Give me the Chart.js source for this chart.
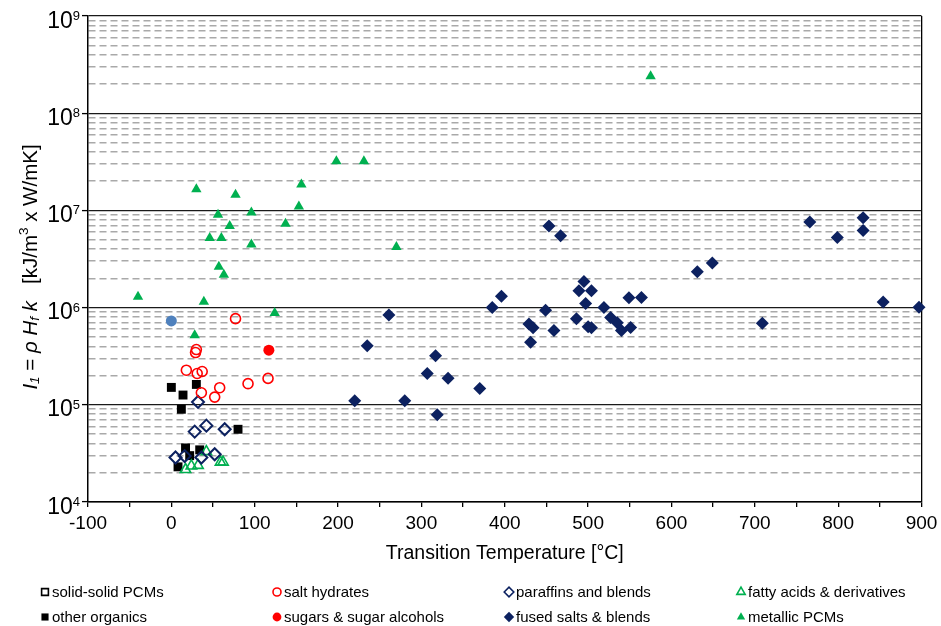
<!DOCTYPE html>
<html>
<head>
<meta charset="utf-8">
<script src="https://cdn.jsdelivr.net/npm/chart.js@4.4.1/dist/chart.umd.min.js"></script>
<style>
  html, body { margin: 0; padding: 0; background: #fff; }
  #wrap { width: 941px; height: 626px; position: relative; }
</style>
</head>
<body>
<div id="wrap"><canvas id="chart"></canvas></div>
<script>
// data: transition temperature [°C] and I1 [kJ/m3 x W/mK]
const saltHydrateT = [77, 30, 29, 18, 31, 37, 36, 58, 52, 92, 116];
const saltHydrateI = [7.7e5, 3.7e5, 3.45e5, 2.27e5, 2.1e5, 2.2e5, 1.33e5, 1.5e5, 1.2e5, 1.65e5, 1.87e5];

const paraffinT = [32, 28, 42, 64, 5, 16, 36, 52];
const paraffinI = [1.07e5, 5.3e4, 6.1e4, 5.6e4, 2.87e4, 2.97e4, 2.87e4, 3.1e4];

const fattyT = [17, 24, 32, 42, 59, 62];
const fattyI = [2.16e4, 2.35e4, 2.38e4, 3.3e4, 2.57e4, 2.57e4];

const organicT = [0, 14, 30, 12, 80, 17, 34, 22, 8];
const organicI = [1.51e5, 1.26e5, 1.62e5, 9.0e4, 5.6e4, 3.6e4, 3.44e4, 3.0e4, 2.3e4];

const sugarT = [117];
const sugarI = [3.65e5];

const fusedT = [453, 467, 261, 235, 220, 280, 319, 317, 307, 332, 370, 385, 396, 429, 434, 431, 449, 459,
  495, 489, 504, 497, 486, 500, 504, 519, 527, 535, 540, 551, 549, 564, 631, 649, 709, 766, 799, 830, 830, 854, 897];
const fusedI = [6.9e6, 5.5e6, 8.4e5, 4.05e5, 1.1e5, 1.1e5, 7.9e4, 3.2e5, 2.1e5, 1.88e5, 1.47e5, 1.0e6, 1.31e6, 6.8e5, 6.2e5, 4.4e5, 9.4e5, 5.8e5,
  1.86e6, 1.49e6, 1.49e6, 1.1e6, 7.7e5, 6.35e5, 6.2e5, 1.0e6, 7.9e5, 7.0e5, 5.8e5, 6.25e5, 1.26e6, 1.27e6, 2.34e6, 2.88e6, 6.9e5, 7.6e6, 5.25e6, 8.4e6, 6.2e6, 1.14e6, 1.01e6];

const metallicT = [-40, 30, 39, 28, 46, 56, 60, 70, 77, 57, 63, 96, 96, 124, 137, 153, 156, 198, 231, 270, 575];
const metallicI = [1.29e6, 1.65e7, 1.15e6, 5.2e5, 5.2e6, 9.0e6, 5.2e6, 6.9e6, 1.45e7, 2.63e6, 2.18e6, 9.5e6, 4.46e6, 8.8e5, 7.3e6, 1.1e7, 1.85e7, 3.2e7, 3.2e7, 4.2e6, 2.4e8];

const waterT = [0];
const waterI = [7.3e5];

const xMin = -100, xMax = 900, xStep = 50;
const yDecades = [4, 5, 6, 7, 8, 9];

const FONT = '"Liberation Sans", Arial, sans-serif';
const NAVY = '#0c2160';
const GREEN = '#00b050';
const RED = '#ff0000';
const NONE = 'rgba(0,0,0,0)';

// 1..9 x 10^n tick values for the log axis
const yTickValues = [];
yDecades.forEach((e, i) => {
  if (i === yDecades.length - 1) { yTickValues.push(10 ** e); return; }
  for (let m = 1; m < 10; m++) yTickValues.push(m * 10 ** e);
});

const isDecade = (v) => {
  const l = Math.log10(v);
  return Math.abs(l - Math.round(l)) < 1e-9;
};

const pts = (xs, ys) => xs.map((x, i) => ({ x: x, y: ys[i] }));

const series = (label, xs, ys, style, fill, stroke, r, bw) => ({
  label: label,
  data: pts(xs, ys),
  pointStyle: style,
  pointRadius: r,
  pointHoverRadius: r,
  backgroundColor: fill,
  borderColor: stroke,
  borderWidth: bw,
  showLine: false,
  clip: false
});

const datasets = [
  series('solid-solid PCMs', [], [], 'rect', NONE, '#000', 6, 1.5),
  series('salt hydrates', saltHydrateT, saltHydrateI, 'circle', NONE, RED, 5, 1.6),
  series('paraffins and blends', paraffinT, paraffinI, 'rectRot', NONE, NAVY, 6, 2),
  series('fatty acids & derivatives', fattyT, fattyI, 'triangle', NONE, GREEN, 6, 1.6),
  series('other organics', organicT, organicI, 'rect', '#000', '#000', 6.3, 0),
  series('sugars & sugar alcohols', sugarT, sugarI, 'circle', RED, RED, 5.5, 0),
  series('fused salts & blends', fusedT, fusedI, 'rectRot', NAVY, NAVY, 6.5, 0),
  series('metallic PCMs', metallicT, metallicI, 'triangle', GREEN, GREEN, 6, 0),
  series('water', waterT, waterI, 'circle', '#4f81bd', '#4f81bd', 5.5, 0)
];

// small marker for the legend
function drawMarker(ctx, style, x, y, r, fill, stroke, lw) {
  ctx.beginPath();
  if (style === 'circle') {
    ctx.arc(x, y, r, 0, Math.PI * 2);
  } else if (style === 'rect') {
    const s = r * Math.SQRT1_2;
    ctx.rect(x - s, y - s, 2 * s, 2 * s);
  } else if (style === 'rectRot') {
    ctx.moveTo(x - r, y); ctx.lineTo(x, y - r); ctx.lineTo(x + r, y); ctx.lineTo(x, y + r);
    ctx.closePath();
  } else if (style === 'triangle') {
    ctx.moveTo(x, y - r);
    ctx.lineTo(x + r * 0.866, y + r * 0.5);
    ctx.lineTo(x - r * 0.866, y + r * 0.5);
    ctx.closePath();
  }
  ctx.fillStyle = fill;
  ctx.fill();
  if (lw > 0) { ctx.lineWidth = lw; ctx.strokeStyle = stroke; ctx.stroke(); }
}

const gridLegend = {
  id: 'gridLegend',
  afterDraw(chart) {
    const ctx = chart.ctx;
    const colX = [45, 277, 509, 741];
    const rowY = [592, 617];
    ctx.save();
    ctx.font = '15px ' + FONT;
    ctx.textBaseline = 'middle';
    ctx.textAlign = 'left';
    chart.data.datasets.slice(0, 8).forEach((ds, i) => {
      const x = colX[i % 4], y = rowY[Math.floor(i / 4)];
      const r = ds.pointRadius * 0.8;
      drawMarker(ctx, ds.pointStyle, x, y, r, ds.backgroundColor, ds.borderColor, ds.borderWidth ? 1.6 : 0);
      ctx.fillStyle = '#000';
      ctx.fillText(ds.label, x + 7, y + 1);
    });
    ctx.restore();
  }
};

// 10^n labels on the log axis, with a real superscript
const yLabels = {
  id: 'yLabels',
  afterDraw(chart) {
    const ctx = chart.ctx;
    const sc = chart.scales.y;
    const right = sc.right - 8;
    ctx.save();
    ctx.fillStyle = '#000';
    ctx.textBaseline = 'alphabetic';
    ctx.textAlign = 'left';
    yDecades.forEach(e => {
      const y = sc.getPixelForValue(10 ** e);
      ctx.font = '13px ' + FONT;
      const ew = ctx.measureText(String(e)).width;
      ctx.font = '23px ' + FONT;
      const bw = ctx.measureText('10').width;
      ctx.fillText('10', right - ew - bw, y + 11.5);
      ctx.font = '13px ' + FONT;
      ctx.fillText(String(e), right - ew, y + 4);
    });
    ctx.restore();
  }
};

// rotated y title with italics, subscripts and superscript
const yTitle = {
  id: 'yTitle',
  afterDraw(chart) {
    const ctx = chart.ctx;
    const size = 20.5, small = 13.5;
    const parts = [
      { t: 'I', it: true },
      { t: '1', it: true, dy: 4.5, s: small },
      { t: ' = ' },
      { t: 'ρ H', it: true },
      { t: 'f', it: true, dy: 4.5, s: small },
      { t: ' k', it: true },
      { t: '   [kJ/m' },
      { t: '3', dy: -6.5, s: small },
      { t: ' x W/mK]' }
    ];
    const fontOf = (p) => (p.it ? 'italic ' : '') + (p.s || size) + 'px ' + FONT;
    ctx.save();
    let total = 0;
    parts.forEach(p => { ctx.font = fontOf(p); p.w = ctx.measureText(p.t).width; total += p.w; });
    ctx.translate(31, 267);
    ctx.rotate(-Math.PI / 2);
    ctx.fillStyle = '#000';
    ctx.textBaseline = 'middle';
    ctx.textAlign = 'left';
    let x = -total / 2;
    parts.forEach(p => {
      ctx.font = fontOf(p);
      ctx.fillText(p.t, x, p.dy || 0);
      x += p.w;
    });
    ctx.restore();
  }
};

new Chart(document.getElementById('chart'), {
  type: 'scatter',
  data: { datasets: datasets },
  options: {
    responsive: true,
    maintainAspectRatio: false,
    animation: false,
    layout: { padding: { top: 16, right: 19.5, bottom: 61, left: 0 } },
    plugins: {
      legend: { display: false },
      tooltip: { enabled: false }
    },
    scales: {
      x: {
        type: 'linear',
        min: xMin,
        max: xMax,
        afterFit: (s) => { s.height = 63; s.paddingLeft = 0; s.paddingRight = 0; },
        ticks: {
          stepSize: xStep,
          autoSkip: false,
          maxRotation: 0,
          padding: 5,
          color: '#000',
          font: { family: FONT, size: 19 },
          callback: (v) => (v % 100 === 0 ? String(v) : '')
        },
        grid: {
          drawOnChartArea: true,
          color: (c) => (c.tick && c.tick.value === xMax ? '#000' : NONE),
          lineWidth: 1.3,
          tickColor: '#000',
          tickLength: 5,
          tickWidth: 1.3
        },
        border: { color: '#000', width: 1.5 },
        title: {
          display: true,
          text: 'Transition Temperature [°C]',
          color: '#000',
          font: { family: FONT, size: 19.5 },
          padding: 0
        }
      },
      y: {
        type: 'logarithmic',
        min: 10 ** yDecades[0],
        max: 10 ** yDecades[yDecades.length - 1],
        afterFit: (s) => { s.width = 88; },
        afterBuildTicks: (s) => { s.ticks = yTickValues.map(v => ({ value: v })); },
        ticks: {
          autoSkip: false,
          padding: 2,
          callback: () => ''
        },
        grid: {
          color: (c) => (c.tick && isDecade(c.tick.value) ? '#1a1a1a' : '#a9a9a9'),
          lineWidth: (c) => (c.tick && isDecade(c.tick.value) ? 1.2 : 1.5),
          tickColor: (c) => (c.tick && isDecade(c.tick.value) ? '#000' : NONE),
          tickLength: 6,
          tickWidth: 1.3
        },
        border: {
          color: '#000',
          width: 1.5,
          dash: (c) => (c.tick && !isDecade(c.tick.value) ? [7, 4] : [])
        }
      }
    }
  },
  plugins: [gridLegend, yLabels, yTitle]
});
</script>
</body>
</html>
